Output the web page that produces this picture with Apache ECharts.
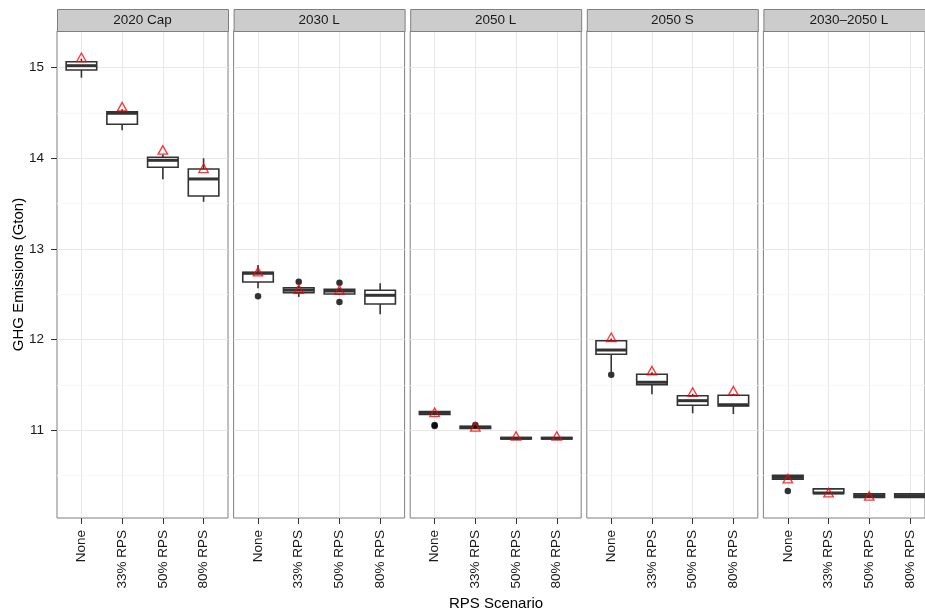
<!DOCTYPE html>
<html>
<head>
<meta charset="utf-8">
<script src="https://cdn.jsdelivr.net/npm/echarts@6/dist/echarts.min.js"></script>
<style>
  html, body { margin: 0; padding: 0; background: #ffffff; }
  #chart { width: 925px; height: 616px; }
</style>
</head>
<body>
<div id="chart"></div>
<script>
// ---- data ----
const scenarios = ['None', '33% RPS', '50% RPS', '80% RPS'];
const facets = ['2020 Cap', '2030 L', '2050 L', '2050 S', '2030–2050 L'];
const yTicks = [11, 12, 13, 14, 15];

// Box statistics per scenario: [lower whisker, Q1, median, Q3, upper whisker]
const cap2020Box = [
  [14.89, 14.975, 15.022, 15.066, 15.10],
  [14.31, 14.375, 14.497, 14.514, 14.54],
  [13.77, 13.901, 13.978, 14.011, 14.04],
  [13.52, 13.584, 13.772, 13.882, 14.00]
];
const l2030Box = [
  [12.565, 12.635, 12.731, 12.742, 12.822],
  [12.470, 12.517, 12.546, 12.572, 12.590],
  [12.490, 12.502, 12.535, 12.554, 12.570],
  [12.278, 12.392, 12.488, 12.543, 12.620]
];
const l2050Box = [
  [11.165, 11.172, 11.190, 11.205, 11.210],
  [11.012, 11.018, 11.031, 11.043, 11.048],
  [10.900, 10.903, 10.910, 10.918, 10.922],
  [10.900, 10.903, 10.910, 10.918, 10.922]
];
const s2050Box = [
  [11.645, 11.837, 11.884, 11.987, 12.010],
  [11.395, 11.501, 11.528, 11.616, 11.640],
  [11.186, 11.274, 11.325, 11.380, 11.400],
  [11.178, 11.266, 11.280, 11.384, 11.400]
];
const l2030to2050Box = [
  [10.455, 10.459, 10.479, 10.501, 10.505],
  [10.296, 10.300, 10.306, 10.351, 10.355],
  [10.252, 10.256, 10.277, 10.298, 10.300],
  [10.252, 10.256, 10.277, 10.298, 10.300]
];

// Outlying runs: [scenario index, value]
const cap2020Out = [];
const l2030Out = [[0, 12.477], [1, 12.638], [2, 12.627], [2, 12.414]];
const l2050Out = [[0, 11.056], [0, 11.045], [1, 11.056]];
const s2050Out = [[0, 11.612]];
const l2030to2050Out = [[0, 10.328]];

// Reference-case result per scenario (null where none)
const cap2020Ref = [15.115, 14.570, 14.092, 13.890];
const l2030Ref = [12.748, 12.557, 12.546, null];
const l2050Ref = [11.197, 11.037, 10.935, 10.935];
const s2050Ref = [12.024, 11.656, 11.420, 11.435];
const l2030to2050Ref = [10.464, 10.310, 10.273, null];

const boxSets = [cap2020Box, l2030Box, l2050Box, s2050Box, l2030to2050Box];
const outSets = [cap2020Out, l2030Out, l2050Out, s2050Out, l2030to2050Out];
const refSets = [cap2020Ref, l2030Ref, l2050Ref, s2050Ref, l2030to2050Ref];

// ---- layout ----
const FONT = "'Liberation Sans', Arial, Helvetica, sans-serif";
const Y_MIN = 10.03, Y_MAX = 15.405;
const PANEL_LEFT0 = 57, PANEL_STEP = 176.6, PANEL_W = 171;
const PANEL_TOP = 31, PANEL_H = 487;
const UNIT = PANEL_W / 4.2;          // one scenario step in px (0.6 step padding each side)
const BORDER = '#7f7f7f', MAJOR = '#e8e8e8', MINOR = '#f8f8f8';
const INK = '#333333';

const grids = [], xAxes = [], yAxes = [], series = [], graphics = [];

facets.forEach((name, i) => {
  const left = PANEL_LEFT0 + i * PANEL_STEP;
  const outer = 2 * i, inner = 2 * i + 1;

  // panel frame + horizontal grid
  grids.push({ left: left, top: PANEL_TOP, width: PANEL_W, height: PANEL_H,
    show: true, borderColor: BORDER, borderWidth: 1, backgroundColor: '#ffffff' });
  // inner grid spans first to last scenario centre
  grids.push({ left: left + 0.6 * UNIT, top: PANEL_TOP, width: 3 * UNIT, height: PANEL_H, show: false });

  xAxes.push({ type: 'value', gridIndex: outer, min: 0, max: 1, show: false });
  xAxes.push({
    type: 'category', gridIndex: inner, data: scenarios, boundaryGap: false,
    axisLine: { show: false },
    axisTick: { show: true, length: 6, lineStyle: { color: INK, width: 1 } },
    axisLabel: { rotate: 90, margin: 12, color: '#1a1a1a', fontSize: 13.5, fontFamily: FONT, interval: 0 },
    splitLine: { show: true, lineStyle: { color: MAJOR, width: 1 } }
  });

  yAxes.push({
    type: 'value', gridIndex: outer, min: Y_MIN, max: Y_MAX,
    axisLine: { show: false },
    axisTick: { show: i === 0, length: 6, customValues: yTicks, lineStyle: { color: INK, width: 1 } },
    axisLabel: { show: i === 0, customValues: yTicks, margin: 13, color: '#1a1a1a', fontSize: 13.5, fontFamily: FONT },
    splitLine: { show: true, lineStyle: { color: MAJOR, width: 1 } },
    minorTick: { show: false, splitNumber: 2 },
    minorSplitLine: { show: true, lineStyle: { color: MINOR, width: 1 } }
  });
  yAxes.push({ type: 'value', gridIndex: inner, min: Y_MIN, max: Y_MAX, show: false, splitLine: { show: false } });

  // boxes and whiskers
  series.push({
    type: 'custom', xAxisIndex: inner, yAxisIndex: inner, clip: false, z: 3,
    dimensions: ['x', 'lo', 'q1', 'med', 'q3', 'hi'],
    encode: { x: 0, y: [1, 2, 3, 4, 5] },
    data: boxSets[i].map((b, k) => [k].concat(b)),
    renderItem: function (params, api) {
      const k = api.value(0);
      const cx = api.coord([k, api.value(3)])[0];
      const step = api.coord([1, 0])[0] - api.coord([0, 0])[0];
      const hw = step * 0.375;
      const yLo = api.coord([k, api.value(1)])[1];
      const yQ1 = api.coord([k, api.value(2)])[1];
      const yMed = api.coord([k, api.value(3)])[1];
      const yQ3 = api.coord([k, api.value(4)])[1];
      const yHi = api.coord([k, api.value(5)])[1];
      const line = { stroke: INK, lineWidth: 1.6 };
      return {
        type: 'group',
        children: [
          { type: 'line', shape: { x1: cx, y1: yHi, x2: cx, y2: yQ3 }, style: line },
          { type: 'line', shape: { x1: cx, y1: yQ1, x2: cx, y2: yLo }, style: line },
          { type: 'rect', shape: { x: cx - hw, y: yQ3, width: 2 * hw, height: yQ1 - yQ3 },
            style: { fill: '#ffffff', stroke: INK, lineWidth: 1.6 } },
          { type: 'line', shape: { x1: cx - hw, y1: yMed, x2: cx + hw, y2: yMed },
            style: { stroke: INK, lineWidth: 3 } }
        ]
      };
    }
  });

  // outliers
  series.push({
    type: 'scatter', xAxisIndex: inner, yAxisIndex: inner, z: 4,
    symbol: 'circle', symbolSize: 6.5, itemStyle: { color: '#000000' },
    data: outSets[i]
  });

  // reference-case triangles
  series.push({
    type: 'scatter', xAxisIndex: inner, yAxisIndex: inner, z: 5,
    symbol: 'triangle', symbolSize: [9.5, 8.5],
    itemStyle: { color: 'rgba(0,0,0,0)', borderColor: '#ff0000', borderWidth: 1.3 },
    data: refSets[i].map((v, k) => v === null ? null : [k, v]).filter(d => d !== null)
  });

  // facet strip
  graphics.push({
    type: 'rect', left: left, top: 9, z: 10,
    shape: { width: PANEL_W, height: 22 },
    style: { fill: '#cccccc', stroke: BORDER, lineWidth: 1 }
  });
  graphics.push({
    type: 'text', x: left + PANEL_W / 2, y: 20.5, z: 11,
    style: { text: name, fill: '#1a1a1a', font: '13.5px ' + FONT, textAlign: 'center', textVerticalAlign: 'middle' }
  });
});

// axis titles
graphics.push({
  type: 'text', x: 18.5, y: PANEL_TOP + PANEL_H / 2, rotation: Math.PI / 2, z: 11,
  style: { text: 'GHG Emissions (Gton)', fill: '#000000', font: '15px ' + FONT, textAlign: 'center', textVerticalAlign: 'middle' }
});
graphics.push({
  type: 'text', x: 496, y: 604, z: 11,
  style: { text: 'RPS Scenario', fill: '#000000', font: '15px ' + FONT, textAlign: 'center', textVerticalAlign: 'middle' }
});

const chart = echarts.init(document.getElementById('chart'), null, { renderer: 'canvas' });
chart.setOption({
  animation: false,
  backgroundColor: '#ffffff',
  grid: grids,
  xAxis: xAxes,
  yAxis: yAxes,
  series: series,
  graphic: graphics
});
</script>
</body>
</html>
